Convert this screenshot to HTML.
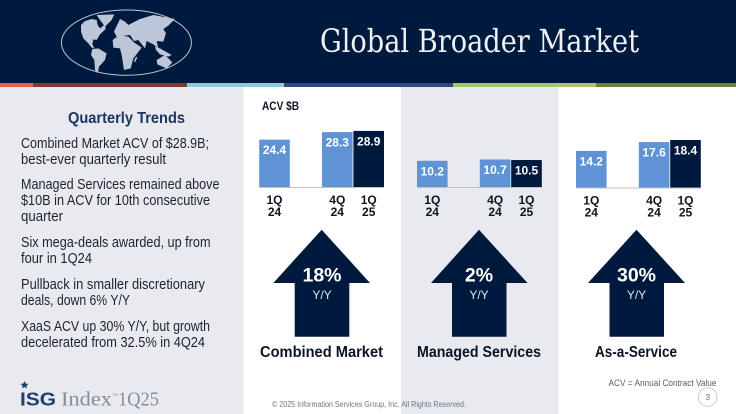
<!DOCTYPE html>
<html lang="en">
<head>
<meta charset="utf-8">
<title>Global Broader Market</title>
<style>
  html, body { margin: 0; padding: 0; background: #fff; }
  body { width: 736px; height: 414px; overflow: hidden; }
  svg { display: block; font-family: "Liberation Sans", sans-serif; }
  .bullet { font-size: 14.3px; fill: #1d2430; }
  .panel-name { font-size: 15.5px; font-weight: 700; fill: #0c1524; }
  .pct { font-size: 19.5px; font-weight: 700; fill: #fff; text-anchor: middle; }
  .yy { font-size: 12px; fill: #dfe5ef; text-anchor: middle; }
</style>
</head>
<body>
<svg id="slide" width="736" height="414" viewBox="0 0 736 414" xmlns="http://www.w3.org/2000/svg">
  <rect x="0" y="0" width="736" height="414" fill="#ffffff"/>
  <rect x="0" y="87" width="243.5" height="327" fill="#e9e9f0"/>
  <rect x="401" y="87" width="157.5" height="327" fill="#e9e9f0"/>
  <rect x="0" y="0" width="736" height="83" fill="#001a3e"/>

  <g>
    <rect x="0" y="83" width="33" height="4" fill="#e8604c"/>
    <rect x="33" y="83" width="154" height="4" fill="#7b3a3c"/>
    <rect x="187" y="83" width="97" height="4" fill="#8cc7e0"/>
    <rect x="284" y="83" width="169" height="4" fill="#2f4a80"/>
    <rect x="453" y="83" width="143" height="4" fill="#a3c86a"/>
    <rect x="596" y="83" width="140" height="4" fill="#6f7d45"/>
  </g>

  <g>
    <ellipse cx="126.4" cy="42.6" rx="65" ry="32.6" fill="none" stroke="#b9c3d6" stroke-width="1"/>
    <g fill="#bcc6d8" transform="translate(55,5) scale(0.3333)">
      <polygon points="78,60 90,48 110,42 125,45 128,60 135,70 150,58 152,72 135,88 125,105 115,103 112,118 118,130 110,128 100,115 85,100 78,80"/>
      <polygon points="125,30 178,28 170,45 150,65 135,45"/>
      <polygon points="112,132 130,130 155,145 150,165 132,185 128,205 120,195 118,165 108,150"/>
    </g>
    <g fill="#bcc6d8" transform="translate(110,5) scale(0.3333)">
      <polygon points="8,105 28,90 55,95 72,112 95,128 78,150 70,160 62,190 42,195 35,150 30,130 10,128"/>
      <polygon points="12,80 30,42 45,50 55,60 90,42 130,30 195,42 175,62 160,72 168,85 160,110 140,108 145,130 130,118 110,108 105,130 85,105 72,108 60,90 20,95"/>
      <polygon points="135,125 150,130 185,150 175,155 150,148 138,135"/>
      <polygon points="140,165 165,150 187,172 170,190 142,178"/>
      <polygon points="78,155 82,158 75,172 72,168"/>
    </g>
  </g>

  <text x="320" y="52" font-family="'DejaVu Serif', serif" font-size="32" fill="#eef1f6" textLength="319" lengthAdjust="spacingAndGlyphs">Global Broader Market</text>

  <text x="68" y="123" font-size="15.5" font-weight="700" fill="#1d3560" textLength="117" lengthAdjust="spacingAndGlyphs">Quarterly Trends</text>

  <g>
    <text class="bullet" x="21" y="148" textLength="188" lengthAdjust="spacingAndGlyphs">Combined Market ACV of $28.9B;</text>
    <text class="bullet" x="21" y="164" textLength="145" lengthAdjust="spacingAndGlyphs">best-ever quarterly result</text>
    <text class="bullet" x="21" y="189" textLength="198.5" lengthAdjust="spacingAndGlyphs">Managed Services remained above</text>
    <text class="bullet" x="21" y="205" textLength="189" lengthAdjust="spacingAndGlyphs">$10B in ACV for 10th consecutive</text>
    <text class="bullet" x="21" y="221" textLength="42" lengthAdjust="spacingAndGlyphs">quarter</text>
    <text class="bullet" x="21" y="247" textLength="189.5" lengthAdjust="spacingAndGlyphs">Six mega-deals awarded, up from</text>
    <text class="bullet" x="21" y="263" textLength="71" lengthAdjust="spacingAndGlyphs">four in 1Q24</text>
    <text class="bullet" x="21" y="289" textLength="184" lengthAdjust="spacingAndGlyphs">Pullback in smaller discretionary</text>
    <text class="bullet" x="21" y="305" textLength="109" lengthAdjust="spacingAndGlyphs">deals, down 6% Y/Y</text>
    <text class="bullet" x="21" y="331" textLength="189" lengthAdjust="spacingAndGlyphs">XaaS ACV up 30% Y/Y, but growth</text>
    <text class="bullet" x="21" y="347" textLength="184" lengthAdjust="spacingAndGlyphs">decelerated from 32.5% in 4Q24</text>
  </g>

  <text x="262" y="110" font-size="12" font-weight="700" fill="#0c1524" textLength="37" lengthAdjust="spacingAndGlyphs">ACV $B</text>

  <g id="charts"></g>

  <g>
    <polygon points="321.7,229.7 370,283 349.3,283 349.3,336.7 294.7,336.7 294.7,283 273.3,283" fill="#001a3e"/>
    <text class="pct" x="322" y="281.5">18%</text>
    <text class="yy" x="322" y="299">Y/Y</text>
  </g>
  <g>
    <polygon points="479,229.7 527.5,283 506.5,283 506.5,336.7 452,336.7 452,283 431,283" fill="#001a3e"/>
    <text class="pct" x="479" y="281.5">2%</text>
    <text class="yy" x="479" y="299">Y/Y</text>
  </g>
  <g>
    <polygon points="636.5,229.7 685,283 664,283 664,336.7 609.5,336.7 609.5,283 588,283" fill="#001a3e"/>
    <text class="pct" x="636.5" y="281.5">30%</text>
    <text class="yy" x="636.5" y="299">Y/Y</text>
  </g>

  <text class="panel-name" x="260" y="357" textLength="123" lengthAdjust="spacingAndGlyphs">Combined Market</text>
  <text class="panel-name" x="417" y="357" textLength="124" lengthAdjust="spacingAndGlyphs">Managed Services</text>
  <text class="panel-name" x="595" y="357" textLength="82" lengthAdjust="spacingAndGlyphs">As-a-Service</text>

  <text x="608.5" y="386" font-size="9" fill="#55606e" textLength="108" lengthAdjust="spacingAndGlyphs">ACV = Annual Contract Value</text>
  <g>
    <circle cx="707.7" cy="397" r="9.3" fill="#ffffff" stroke="#c9ccd2" stroke-width="1"/>
    <text x="707.7" y="400" font-size="8.5" fill="#6a7280" text-anchor="middle">3</text>
  </g>
  <text x="272" y="407" font-size="8" fill="#6e7683" textLength="194" lengthAdjust="spacingAndGlyphs">© 2025 Information Services Group, Inc.  All Rights Reserved.</text>

  <g>
    <polygon points="24.5,381 25.7,383.6 28.5,383.9 26.4,385.7 27,388.4 24.5,387 22,388.4 22.6,385.7 20.5,383.9 23.3,383.6" fill="#1d3f73"/>
    <text x="20" y="405.5" font-size="18" font-weight="700" fill="#1d3f73" textLength="36" lengthAdjust="spacingAndGlyphs">ISG</text>
    <text x="61" y="405.5" font-family="'Liberation Serif', serif" font-size="19.5" fill="#868d99" textLength="51" lengthAdjust="spacingAndGlyphs">Index</text>
    <text x="112" y="396" font-size="4" fill="#868d99">TM</text>
    <text x="118" y="405.5" font-family="'Liberation Serif', serif" font-size="19.5" fill="#868d99" textLength="41" lengthAdjust="spacingAndGlyphs">1Q25</text>
  </g>
</svg>

<script>
const categories = ['1Q 24', '', '4Q 24', '1Q 25'];
const combinedValues = [24.4, null, 28.3, 28.9];
const managedValues = [10.2, null, 10.7, 10.5];
const xaasValues = [14.2, null, 17.6, 18.4];
const combinedLabels = ['24.4', '', '28.3', '28.9'];
const managedLabels = ['10.2', '', '10.7', '10.5'];
const xaasLabels = ['14.2', '', '17.6', '18.4'];

const NS = 'http://www.w3.org/2000/svg';
const chartsRoot = document.getElementById('charts');

function xAxis(left, step) {
  return function (index) { return left + index * step; };
}
function yAxis(baseline, domainMax, pixelRange) {
  return function (value) { return baseline - (value / domainMax) * pixelRange; };
}
function make(tag, parent, attrs, content) {
  const el = document.createElementNS(NS, tag);
  Object.keys(attrs).forEach(function (key) { el.setAttribute(key, attrs[key]); });
  if (content !== undefined) el.textContent = content;
  parent.appendChild(el);
  return el;
}

function drawChart(name, values, labels, left, baseline, domainMax, pixelRange, fontSize) {
  const step = 31.4;
  const barWidth = 30.6;
  const x = xAxis(left, step);
  const y = yAxis(baseline, domainMax, pixelRange);

  const group = make('g', chartsRoot, {});
  
  

  const axis = make('line', group, {
    x1: x(0), x2: x(categories.length - 1) + barWidth,
    y1: baseline + 0.5, y2: baseline + 0.5,
    stroke: '#bfc2c8', 'stroke-width': 1
  });
  
  

  categories.forEach(function (category, i) {
    const value = values[i];
    if (value === null) return;
    const isCurrent = i === categories.length - 1;
    const top = y(value);
    const center = x(i) + barWidth / 2;

    const bar = make('rect', group, {
      x: x(i), y: top, width: barWidth, height: baseline - top,
      fill: isCurrent ? '#001a3e' : '#5f93d6'
    });
    
    

    const valueLabel = make('text', group, {
      x: center, y: top + 14.5, fill: '#ffffff',
      'font-size': fontSize, 'font-weight': 700, 'text-anchor': 'middle'
    }, labels[i]);
    
    

    const parts = category.split(' ');
    parts.forEach(function (part, lineIndex) {
      const tick = make('text', group, {
        x: center, y: baseline + 17 + lineIndex * 12, fill: '#0c1524',
        'font-size': 12, 'font-weight': 700, 'text-anchor': 'middle'
      }, part);
      
      
    });
  });
}

drawChart('combined', combinedValues, combinedLabels, 259.2, 187, 30, 58.2, 12);
drawChart('managed', managedValues, managedLabels, 417, 187, 20, 51.4, 12);
drawChart('xaas', xaasValues, xaasLabels, 576, 187.5, 20, 51.6, 12);
</script>
</body>
</html>
